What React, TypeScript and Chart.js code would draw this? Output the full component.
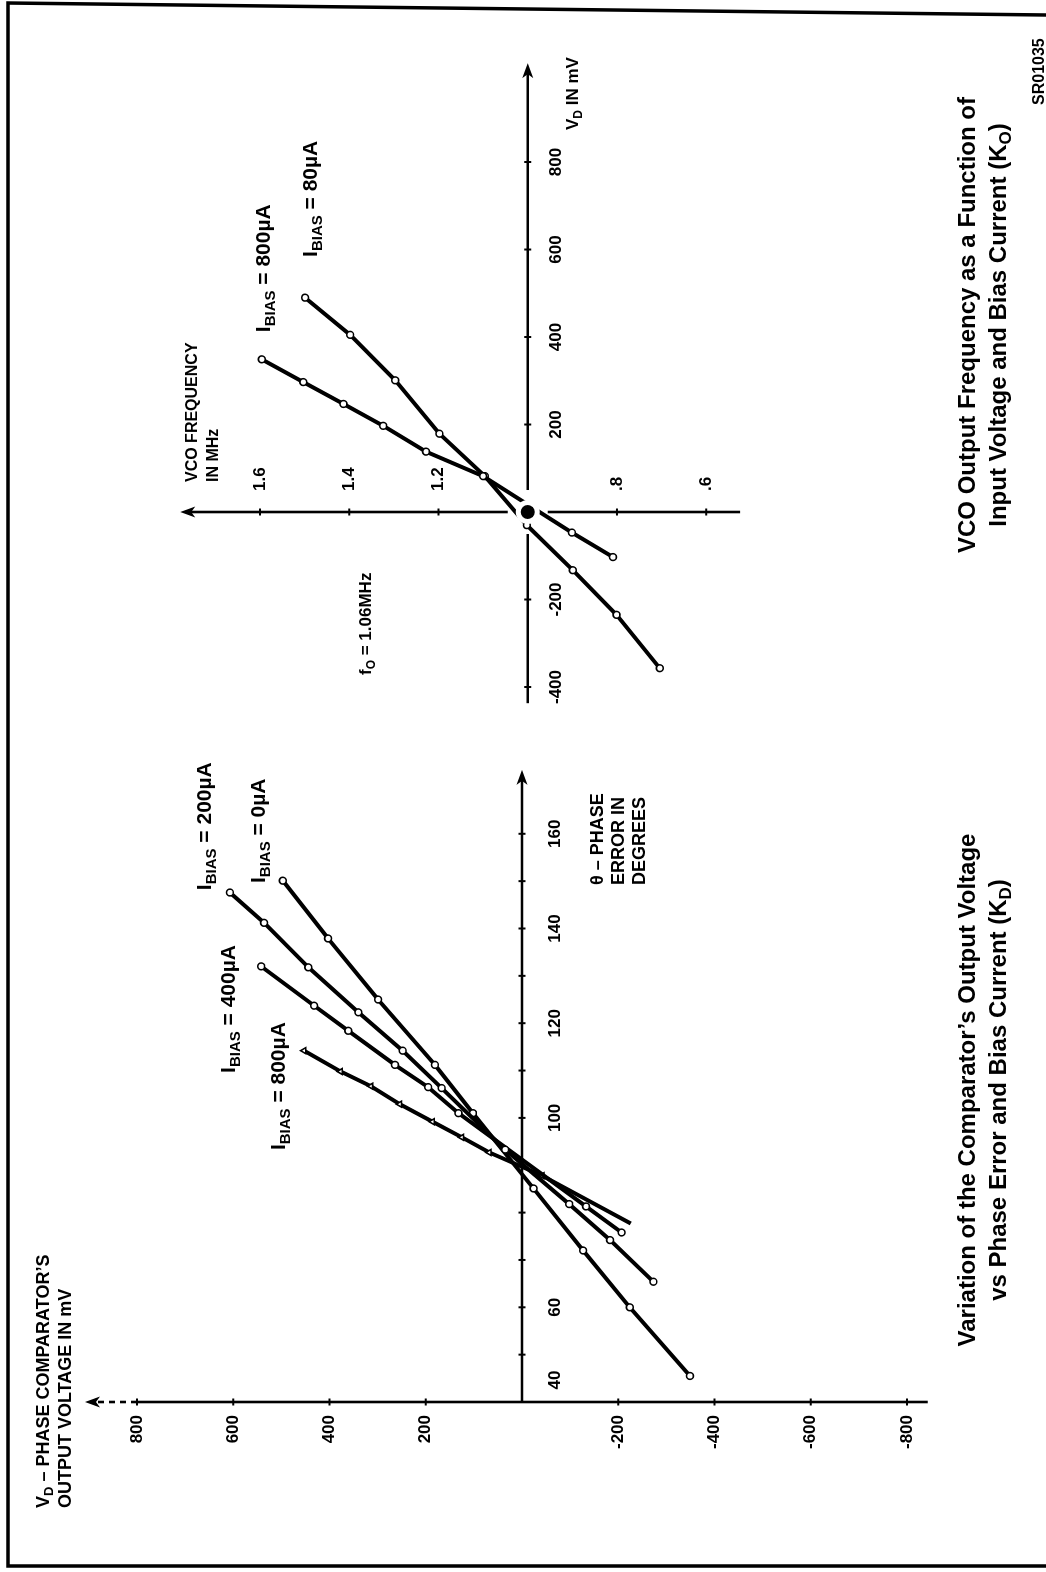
import React, { useEffect, useRef } from "react";
import { Chart, registerables } from "chart.js";

Chart.register(...registerables);

// ---------------- Left chart: comparator output voltage vs phase error ----------------
const phaseTickValues = [50, 60, 70, 80, 90, 100, 110, 120, 130, 140, 150, 160];
const phaseLabelValues = [40, 60, 100, 120, 140, 160];
const phaseLabels = ["40", "60", "100", "120", "140", "160"];
const vdTickValues = [800, 600, 400, 200, -200, -400, -600, -800];
const vdTickLabels = ["800", "600", "400", "200", "-200", "-400", "-600", "-800"];

const bias0Phase = [150.1, 137.9, 125.0, 111.2, 101.0, 85.1, 72.0, 60.0, 45.5];
const bias0Mv = [497, 403, 299, 181, 102, -24, -127, -224, -349];
const bias200Phase = [147.6, 141.2, 131.8, 122.3, 114.2, 106.3, 93.3, 81.8, 74.2, 65.4];
const bias200Mv = [607, 536, 444, 340, 248, 167, 35, -98, -183, -273];
const bias400Phase = [132.0, 123.7, 118.4, 111.2, 106.5, 101.0, 81.3, 75.8];
const bias400Mv = [542, 432, 361, 264, 195, 132, -133, -207];
const bias800Phase = [114.2, 109.8, 106.7, 102.9, 99.2, 95.9, 92.7, 87.8, 77.7];
const bias800Mv = [453, 377, 314, 254, 186, 125, 68, -42, -226];

// ---------------- Right chart: VCO frequency vs input voltage ----------------
const vcoMvTickValues = [-400, -200, 200, 400, 600, 800];
const vcoMvTickLabels = ["-400", "-200", "200", "400", "600", "800"];
const vcoFreqTickValues = [0.6, 0.8, 1.2, 1.4, 1.6];
const vcoFreqTickLabels = [".6", ".8", "1.2", "1.4", "1.6"];

const vcoBias800Mv = [349, 297, 247, 197, 138, 82, -47, -103];
const vcoBias800Freq = [1.596, 1.503, 1.413, 1.324, 1.228, 1.1, 0.901, 0.809];
const vcoBias80Mv = [490, 405, 301, 179, 82, -30, -133, -235, -357];
const vcoBias80Freq = [1.499, 1.398, 1.297, 1.198, 1.096, 1.002, 0.899, 0.801, 0.704];

// axis extents
const PHASE_MIN = 40;
const PHASE_ARROW = 173.5;
const VD_BOTTOM = -843;
const VD_SOLID_TOP = 800;
const VD_ARROW = 908;
const VCO_MV_LEFT = -437;
const VCO_MV_ARROW = 1026;
const VCO_F_BOTTOM = 0.524;
const VCO_F_ARROW = 1.779;

const FAMILY = '"Liberation Sans", Arial, Helvetica, sans-serif';
const bold = (px: number) => `bold ${px}px ${FAMILY}`;

type Seg = { text: string; sub: boolean };
function parseRich(s: string): Seg[] {
  const out: Seg[] = [];
  const re = /_\{([^}]*)\}/g;
  let last = 0;
  let m: RegExpExecArray | null;
  while ((m = re.exec(s))) {
    if (m.index > last) out.push({ text: s.slice(last, m.index), sub: false });
    out.push({ text: m[1], sub: true });
    last = m.index + m[0].length;
  }
  if (last < s.length) out.push({ text: s.slice(last), sub: false });
  return out;
}

function drawRich(ctx: CanvasRenderingContext2D, s: string, x: number, y: number, px: number, align: "left" | "center" | "right") {
  const segs = parseRich(s);
  const subPx = Math.round(px * 0.72);
  let w = 0;
  for (const g of segs) {
    ctx.font = bold(g.sub ? subPx : px);
    w += ctx.measureText(g.text).width;
  }
  let cx = align === "left" ? x : align === "center" ? x - w / 2 : x - w;
  ctx.textAlign = "left";
  ctx.textBaseline = "middle";
  ctx.fillStyle = "#000";
  for (const g of segs) {
    ctx.font = bold(g.sub ? subPx : px);
    ctx.fillText(g.text, cx, g.sub ? y + px * 0.32 : y);
    cx += ctx.measureText(g.text).width;
  }
}

function seg(ctx: CanvasRenderingContext2D, x1: number, y1: number, x2: number, y2: number) {
  ctx.beginPath();
  ctx.moveTo(x1, y1);
  ctx.lineTo(x2, y2);
  ctx.stroke();
}

function arrow(ctx: CanvasRenderingContext2D, tx: number, ty: number, dir: "right" | "up") {
  const L = 15;
  const H = 5.5;
  ctx.beginPath();
  if (dir === "right") {
    ctx.moveTo(tx, ty);
    ctx.lineTo(tx - L, ty - H);
    ctx.lineTo(tx - L + 4, ty);
    ctx.lineTo(tx - L, ty + H);
  } else {
    ctx.moveTo(tx, ty);
    ctx.lineTo(tx - H, ty + L);
    ctx.lineTo(tx, ty + L - 4);
    ctx.lineTo(tx + H, ty + L);
  }
  ctx.closePath();
  ctx.fill();
}

function series(xs: number[], ys: number[], style: string, lastMarker = true) {
  const n = xs.length;
  return {
    data: xs.map((x, i) => ({ x, y: ys[i] })),
    showLine: true,
    borderColor: "#000",
    borderWidth: 4,
    pointStyle: style,
    pointRadius: (c: any) => (!lastMarker && c.dataIndex === n - 1 ? 0 : 3.4),
    pointBorderWidth: 1.6,
    pointBackgroundColor: "#fff",
    pointBorderColor: "#000",
    tension: 0,
    clip: false,
  };
}

const phaseDecor = {
  id: "phaseDecor",
  beforeDatasetsDraw(chart: any) {
    const ctx: CanvasRenderingContext2D = chart.ctx;
    const X = (v: number) => chart.scales.x.getPixelForValue(v);
    const Y = (v: number) => chart.scales.y.getPixelForValue(v);
    ctx.save();
    ctx.strokeStyle = "#000";
    ctx.fillStyle = "#000";
    ctx.lineWidth = 2.6;
    const x0 = X(PHASE_MIN);
    const y0 = Y(0);
    seg(ctx, x0, y0, X(PHASE_ARROW) - 8, y0);
    arrow(ctx, X(PHASE_ARROW), y0, "right");
    seg(ctx, x0, Y(VD_BOTTOM), x0, Y(VD_SOLID_TOP));
    ctx.setLineDash([6, 5]);
    seg(ctx, x0, Y(VD_SOLID_TOP), x0, Y(VD_ARROW) + 8);
    ctx.setLineDash([]);
    arrow(ctx, x0, Y(VD_ARROW), "up");
    ctx.lineWidth = 2;
    phaseTickValues.forEach((v) => seg(ctx, X(v), y0 - 3.5, X(v), y0 + 3.5));
    vdTickValues.forEach((v) => seg(ctx, x0 - 3.5, Y(v), x0 + 3.5, Y(v)));
    ctx.font = bold(17);
    ctx.textBaseline = "middle";
    ctx.textAlign = "right";
    vdTickValues.forEach((v, i) => ctx.fillText(vdTickLabels[i], x0 - 13, Y(v)));
    ctx.textAlign = "center";
    phaseLabelValues.forEach((v, i) => ctx.fillText(phaseLabels[i], X(v) + (v === PHASE_MIN ? 22 : 0), y0 + 33));
    ctx.restore();
  },
  afterDraw(chart: any) {
    const ctx: CanvasRenderingContext2D = chart.ctx;
    const X = (v: number) => chart.scales.x.getPixelForValue(v);
    const Y = (v: number) => chart.scales.y.getPixelForValue(v);
    ctx.save();
    drawRich(ctx, "V_{D} \u2013 PHASE COMPARATOR\u2019S", 64, 44, 18, "left");
    drawRich(ctx, "OUTPUT VOLTAGE IN mV", 64, 66, 18, "left");
    drawRich(ctx, "\u03b8 \u2013 PHASE", 687, 598, 18, "left");
    drawRich(ctx, "ERROR IN", 687, 619, 18, "left");
    drawRich(ctx, "DEGREES", 687, 640, 18, "left");
    drawRich(ctx, "I_{BIAS} = 200\u00b5A", X(148.1), Y(659), 21, "left");
    drawRich(ctx, "I_{BIAS} = 0\u00b5A", X(149.6), Y(546), 21, "left");
    drawRich(ctx, "I_{BIAS} = 400\u00b5A", X(109.5), Y(609), 21, "left");
    drawRich(ctx, "I_{BIAS} = 800\u00b5A", X(93.2), Y(505), 21, "left");
    drawRich(ctx, "Variation of the Comparator\u2019s Output Voltage", 482, 968, 24, "center");
    drawRich(ctx, "vs Phase Error and Bias Current (K_{D})", 482, 999, 24, "center");
    ctx.restore();
  },
};

const vcoDecor = {
  id: "vcoDecor",
  beforeDatasetsDraw(chart: any) {
    const ctx: CanvasRenderingContext2D = chart.ctx;
    const X = (v: number) => chart.scales.x.getPixelForValue(v);
    const Y = (v: number) => chart.scales.y.getPixelForValue(v);
    ctx.save();
    ctx.strokeStyle = "#000";
    ctx.fillStyle = "#000";
    ctx.lineWidth = 2.6;
    const x0 = X(0);
    const y0 = Y(1.0);
    seg(ctx, X(VCO_MV_LEFT), y0, x0 - 22, y0);
    seg(ctx, x0 + 22, y0, X(VCO_MV_ARROW) - 8, y0);
    arrow(ctx, X(VCO_MV_ARROW), y0, "right");
    seg(ctx, x0, Y(VCO_F_BOTTOM), x0, y0 + 20);
    seg(ctx, x0, y0 - 20, x0, Y(VCO_F_ARROW) + 8);
    arrow(ctx, x0, Y(VCO_F_ARROW), "up");
    ctx.lineWidth = 2;
    vcoMvTickValues.forEach((v) => seg(ctx, X(v), y0 - 3.5, X(v), y0 + 3.5));
    vcoFreqTickValues.forEach((v) => seg(ctx, x0 - 3.5, Y(v), x0 + 3.5, Y(v)));
    ctx.font = bold(17);
    ctx.textBaseline = "middle";
    ctx.textAlign = "center";
    vcoMvTickValues.forEach((v, i) => ctx.fillText(vcoMvTickLabels[i], X(v), y0 + 29));
    ctx.textAlign = "left";
    vcoFreqTickValues.forEach((v, i) => ctx.fillText(vcoFreqTickLabels[i], x0 + 21, Y(v)));
    ctx.restore();
  },
  afterDatasetsDraw(chart: any) {
    const ctx: CanvasRenderingContext2D = chart.ctx;
    const x0 = chart.scales.x.getPixelForValue(0);
    const y0 = chart.scales.y.getPixelForValue(1.0);
    ctx.save();
    ctx.fillStyle = "#fff";
    ctx.beginPath();
    ctx.arc(x0, y0, 12, 0, Math.PI * 2);
    ctx.fill();
    ctx.fillStyle = "#000";
    ctx.beginPath();
    ctx.arc(x0, y0, 7, 0, Math.PI * 2);
    ctx.fill();
    ctx.restore();
  },
  afterDraw(chart: any) {
    const ctx: CanvasRenderingContext2D = chart.ctx;
    const X = (v: number) => chart.scales.x.getPixelForValue(v);
    const Y = (v: number) => chart.scales.y.getPixelForValue(v);
    ctx.save();
    drawRich(ctx, "VCO FREQUENCY", 1090, 193, 16, "left");
    drawRich(ctx, "IN MHz", 1090, 214, 16, "left");
    drawRich(ctx, "V_{D} IN mV", 1442, 573, 17, "left");
    drawRich(ctx, "f_{O} = 1.06MHz", 897, 366, 17, "left");
    drawRich(ctx, "I_{BIAS} = 800\u00b5A", X(411), Y(1.591), 21, "left");
    drawRich(ctx, "I_{BIAS} = 80\u00b5A", X(583), Y(1.486), 21, "left");
    drawRich(ctx, "VCO Output Frequency as a Function of", 1247, 968, 24, "center");
    drawRich(ctx, "Input Voltage and Bias Current (K_{O})", 1247, 999, 24, "center");
    drawRich(ctx, "SR01035", 1467, 1040, 16, "left");
    // page frame
    ctx.strokeStyle = "#000";
    ctx.lineWidth = 3.5;
    ctx.beginPath();
    ctx.moveTo(6, 1046);
    ctx.lineTo(6, 8);
    ctx.lineTo(1569, 8);
    ctx.lineTo(1557, 1046);
    ctx.stroke();
    ctx.restore();
  },
};

const W = 1572;
const H = 1046;

export default function App() {
  const ref1 = useRef<HTMLCanvasElement>(null);
  const ref2 = useRef<HTMLCanvasElement>(null);

  useEffect(() => {
    const c1 = new Chart(ref1.current as HTMLCanvasElement, {
      type: "scatter",
      data: {
        datasets: [
          series(bias200Phase, bias200Mv, "circle") as any,
          series(bias0Phase, bias0Mv, "circle") as any,
          series(bias400Phase, bias400Mv, "circle") as any,
          series(bias800Phase, bias800Mv, "triangle", false) as any,
        ],
      },
      options: {
        responsive: false,
        animation: false,
        events: [],
        layout: { padding: { left: 170, right: W - 804.5, top: 84.06, bottom: H - 931.06 } },
        scales: {
          x: { type: "linear", min: 40, max: 174, display: false },
          y: { type: "linear", min: -850, max: 910, display: false },
        },
        plugins: { legend: { display: false }, tooltip: { enabled: false } },
      },
      plugins: [phaseDecor as any],
    });
    const c2 = new Chart(ref2.current as HTMLCanvasElement, {
      type: "scatter",
      data: {
        datasets: [
          series(vcoBias800Mv, vcoBias800Freq, "circle") as any,
          series(vcoBias80Mv, vcoBias80Freq, "circle") as any,
        ],
      },
      options: {
        responsive: false,
        animation: false,
        events: [],
        layout: { padding: { left: 867.5, right: W - 1510.6, top: 179.7, bottom: H - 741.9 } },
        scales: {
          x: { type: "linear", min: -440, max: 1030, display: false },
          y: { type: "linear", min: 0.52, max: 1.78, display: false },
        },
        plugins: { legend: { display: false }, tooltip: { enabled: false } },
      },
      plugins: [vcoDecor as any],
    });
    return () => {
      c1.destroy();
      c2.destroy();
    };
  }, []);

  return (
    <div style={{ position: "absolute", left: 0, top: 0, width: 1046, height: 1572, overflow: "hidden", background: "#fff" }}>
      <div
        style={{
          position: "absolute",
          left: 0,
          top: 0,
          width: W,
          height: H,
          transformOrigin: "0 0",
          transform: `translate(0px, ${W}px) rotate(-90deg)`,
        }}
      >
        <canvas ref={ref1} width={W} height={H} style={{ position: "absolute", left: 0, top: 0 }} />
        <canvas ref={ref2} width={W} height={H} style={{ position: "absolute", left: 0, top: 0 }} />
      </div>
    </div>
  );
}
